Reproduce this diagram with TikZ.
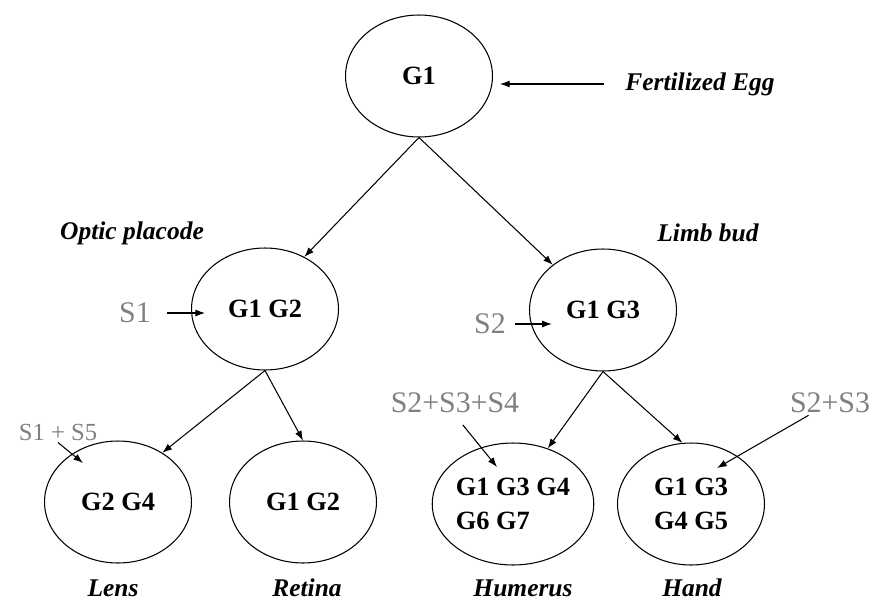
\documentclass[tikz,border=0pt]{standalone}
\usepackage{fontspec}
\setmainfont{Liberation Serif}
\usetikzlibrary{shapes.geometric,arrows.meta}

\begin{document}
\begin{tikzpicture}[x=0.02cm,y=-0.02cm,line width=0.6pt,
  >={Latex[length=5.5pt,width=4pt]},
  cell/.style={draw,ellipse,minimum width=2.94cm,minimum height=2.44cm,inner sep=0pt,
    align=left,font=\fontsize{15}{19}\selectfont\bfseries},
  tissue/.style={inner sep=1pt,font=\fontsize{14.5}{17}\selectfont\bfseries\itshape},
  signal/.style={text=black!50,inner sep=1pt,font=\fontsize{17}{20}\selectfont}]
\useasboundingbox (0,0) rectangle (883,602);

\node[cell] (egg) at (419,76) {G1};
\node[cell] (optic) at (265,309) {G1 G2};
\node[cell] (limb) at (603,310) {G1 G3};
\node[cell] (lens) at (118,502) {G2 G4};
\node[cell] (retina) at (303,502) {G1 G2};
\node[cell] (humerus) at (513,504) {G1 G3 G4\\G6 G7};
\node[cell] (hand) at (691,504) {G1 G3\\G4 G5};

\node[tissue] (fertlabel) at (700,84) {Fertilized Egg};
\node[tissue] (opticlabel) at (132,233) {Optic placode};
\node[tissue] (limblabel) at (708,233) {Limb bud};
\node[tissue] (lenslabel) at (113,588) {Lens};
\node[tissue] (retinalabel) at (307,588) {Retina};
\node[tissue] (humeruslabel) at (523,588) {Humerus};
\node[tissue] (handlabel) at (692,588) {Hand};

\node[signal] (s1) at (135,313) {S1};
\node[signal] (s2) at (490,324) {S2};
\node[signal,font=\fontsize{14}{16}\selectfont] (s15) at (58,432) {S1 + S5};
\node[signal] (s234) at (455,403) {S2+S3+S4};
\node[signal] (s23) at (830,403) {S2+S3};

\coordinate (lenstip) at (83,463);
\coordinate (humerustip) at (497,467);
\coordinate (handtip) at (717,468);

% lineage
\draw[->] (egg.south) -- (optic.53);
\draw[->] (egg.south) -- (limb.138);
\draw[->] (optic.south) -- (lens.48);
\draw[->] (optic.south) -- (retina.north);
\draw[->] (limb.south) -- (humerus.58);
\draw[->] (limb.south) -- (hand.98);

% signals
\draw[->,shorten <=11pt,shorten >=4pt] (fertlabel.west) -- (fertlabel.west -| egg.east);
\draw[->,shorten <=8pt,shorten >=-8pt] (s1.east) -- (s1.east -| optic.west);
\draw[->,shorten <=4pt,shorten >=-13pt] (s2.east) -- (s2.east -| limb.west);
\draw[->] (s15.south) -- (lenstip);
\draw[->,shorten <=7pt] (s234.south) -- (humerustip);
\draw[->] (s23) -- (handtip);
\end{tikzpicture}
\end{document}
